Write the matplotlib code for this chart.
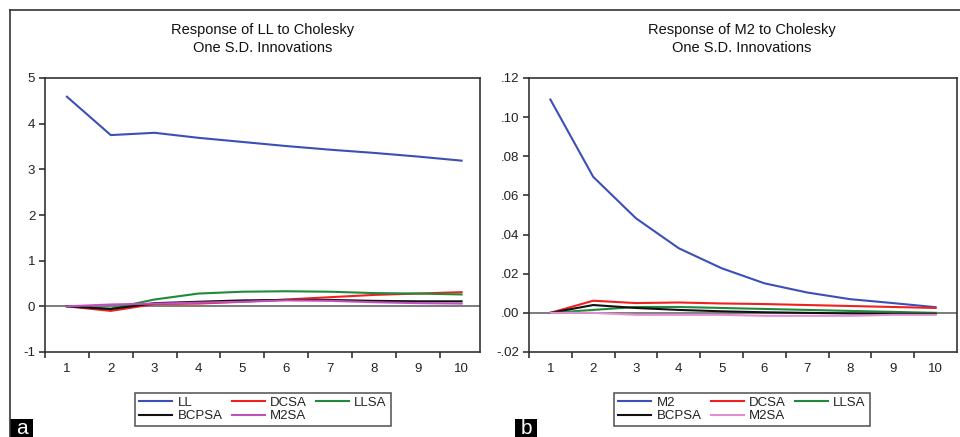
import numpy as np
import matplotlib
matplotlib.use("Agg")
import matplotlib.pyplot as plt
from matplotlib.lines import Line2D
from matplotlib.patches import Rectangle

plt.rcParams['font.family'] = ['Liberation Sans', 'DejaVu Sans']

periods = np.arange(1, 11)
legend_names_a = ['LL', 'DCSA', 'LLSA', 'BCPSA', 'M2SA']
legend_names_b = ['M2', 'DCSA', 'LLSA', 'BCPSA', 'M2SA']

# response of LL
ll_own = [4.59, 3.75, 3.80, 3.69, 3.60, 3.51, 3.43, 3.36, 3.28, 3.19]
ll_dcsa = [0.0, -0.10, 0.05, 0.06, 0.10, 0.15, 0.20, 0.25, 0.28, 0.31]
ll_llsa = [0.0, -0.05, 0.15, 0.28, 0.32, 0.33, 0.32, 0.29, 0.28, 0.26]
ll_bcpsa = [0.0, -0.06, 0.07, 0.10, 0.13, 0.14, 0.14, 0.12, 0.11, 0.11]
ll_m2sa = [0.0, 0.04, 0.06, 0.08, 0.10, 0.13, 0.12, 0.09, 0.07, 0.06]

# response of M2
m2_own = [0.109, 0.0695, 0.0483, 0.0330, 0.0228, 0.0151, 0.0104, 0.0070, 0.0050, 0.0029]
m2_dcsa = [0.0, 0.0062, 0.0050, 0.0053, 0.0048, 0.0045, 0.0040, 0.0035, 0.0030, 0.0025]
m2_llsa = [0.0, 0.0015, 0.0030, 0.0030, 0.0025, 0.0020, 0.0015, 0.0010, 0.0005, 0.0]
m2_bcpsa = [0.0, 0.0040, 0.0025, 0.0015, 0.0008, 0.0003, 0.0, -0.0003, -0.0005, -0.0005]
m2_m2sa = [0.0, 0.0, -0.0010, -0.0010, -0.0010, -0.0015, -0.0015, -0.0015, -0.0010, -0.0010]

colors_a = ['#3b4fb8', '#f02020', '#1f8a3a', '#111111', '#c050c0']
colors_b = ['#3b4fb8', '#f02020', '#1f8a3a', '#111111', '#e090d0']

W, H = 960, 437
fig = plt.figure(figsize=(9.6, 4.37), dpi=100)


def px_axes(x0, y0, x1, y1):
    return fig.add_axes([x0 / W, 1 - y1 / H, (x1 - x0) / W, (y1 - y0) / H])


def draw_panel(ax, series, names, colors, ylim, yticks, ylabels, xmax):
    ax.axhline(0, color='#666666', lw=1.2, zorder=1)
    for s, c, n in zip(series, colors, names):
        ax.plot(periods, s, color=c, lw=1.5, label=n, zorder=2)
    ax.set_xlim(0.5, xmax)
    ax.set_ylim(*ylim)
    ax.set_xticks(np.arange(0.5, 10.0, 1.0))
    ax.set_xticklabels([])
    ax.set_xticks(periods, minor=True)
    ax.set_xticklabels([str(p) for p in periods], minor=True)
    ax.tick_params(axis='x', which='minor', length=0, pad=8, labelsize=9.5,
                   labelcolor='#222222')
    ax.tick_params(axis='x', which='major', length=4, direction='out', width=1.2,
                   color='#333333')
    ax.set_yticks(yticks)
    ax.set_yticklabels(ylabels)
    ax.tick_params(axis='y', length=4, direction='out', width=1.2, labelsize=9.5,
                   pad=3, color='#333333', labelcolor='#222222')
    for sp in ax.spines.values():
        sp.set_color('#333333')
        sp.set_linewidth(1.2)


ax1 = px_axes(45, 78, 480, 352)
draw_panel(ax1, [ll_own, ll_dcsa, ll_llsa, ll_bcpsa, ll_m2sa], legend_names_a, colors_a,
           (-1, 5), [-1, 0, 1, 2, 3, 4, 5], ['-1', '0', '1', '2', '3', '4', '5'], 10.42)

ax2 = px_axes(529, 78, 957, 352)
yt2 = [-0.02, 0.0, 0.02, 0.04, 0.06, 0.08, 0.10, 0.12]
draw_panel(ax2, [m2_own, m2_dcsa, m2_llsa, m2_bcpsa, m2_m2sa], legend_names_b, colors_b,
           (-0.02, 0.12), yt2, ['-.02', '.00', '.02', '.04', '.06', '.08', '.10', '.12'], 10.5)

titles = [('Response of LL to Cholesky', 263), ('Response of M2 to Cholesky', 742)]
for t, cx in titles:
    fig.text(cx / W, 1 - 30 / H, t, ha='center', va='center', fontsize=10.5, color='#111111')
    fig.text(cx / W, 1 - 48 / H, 'One S.D. Innovations', ha='center', va='center',
             fontsize=10.5, color='#111111')

for ax, cx in [(ax1, 263), (ax2, 742)]:
    h, l = ax.get_legend_handles_labels()
    # reorder so the two rows read across like the original
    order = [0, 3, 1, 4, 2]
    leg = ax.legend([h[i] for i in order], [l[i] for i in order], ncol=3,
                    loc='center', bbox_to_anchor=(cx / W, 1 - 409.5 / H),
                    bbox_transform=fig.transFigure, fontsize=9.5, frameon=True,
                    fancybox=False, edgecolor='#333333', handlelength=2.5,
                    handletextpad=0.4, columnspacing=0.7, labelspacing=0.1,
                    borderpad=0.3, borderaxespad=0)
    leg.get_frame().set_linewidth(1.2)
    for t in leg.get_texts():
        t.set_color('#222222')

# outer frame
fig.add_artist(Line2D([10 / W, 1], [1 - 10 / H, 1 - 10 / H], color='#333333', lw=1.2))
fig.add_artist(Line2D([10 / W, 10 / W], [0, 1 - 10 / H], color='#333333', lw=1.2))

# panel letters
for x0, x1, letter in [(10, 33, 'a'), (515, 537, 'b')]:
    fig.add_artist(Rectangle((x0 / W, 0), (x1 - x0) / W, 18 / H, transform=fig.transFigure,
                             fc='black', ec='none'))
    fig.text((x0 + x1) / 2 / W, 1 - 428 / H, letter, color='white', fontsize=15,
             ha='center', va='center')

fig.savefig('out.png', dpi=100)
